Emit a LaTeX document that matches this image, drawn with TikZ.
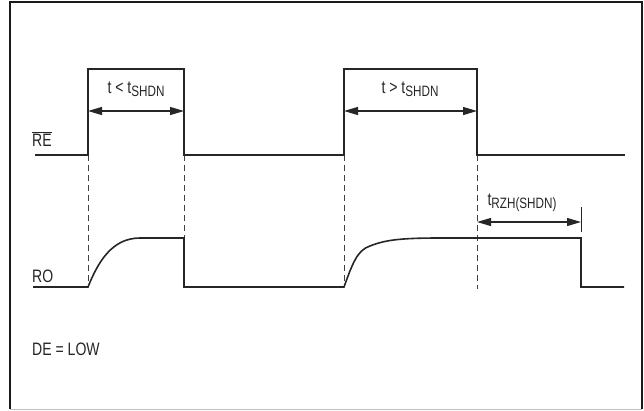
\documentclass[tikz,border=0pt]{standalone}
\usepackage{fontspec}
\setmainfont{Liberation Sans}[FakeStretch=0.78]
\usetikzlibrary{arrows.meta}
\newcommand{\sbs}[1]{\raisebox{-3pt}{\fontsize{15}{15}\selectfont #1}}
\begin{document}
\begin{tikzpicture}[x=1pt,y=-1pt,
  wave/.style={line width=1.6pt,draw=black!85,line join=miter},
  guide/.style={line width=0.9pt,draw=black!75,dash pattern=on 6pt off 4pt},
  dim/.style={line width=1.2pt,draw=black!85,{Triangle[length=14pt,width=8pt]}-{Triangle[length=14pt,width=8pt]}},
  lbl/.style={font=\fontsize{18}{18}\selectfont,inner sep=0pt,text=black!85}]
\useasboundingbox (0,0) rectangle (644,410);
\draw[line width=2pt,black!90] (10,409) -- (10,2) -- (642,2) -- (642,409);
\draw[line width=0.8pt,black!25] (10,409) -- (642,409);
% coordinates
\coordinate (r1) at (88,155); \coordinate (r2) at (184,155);
\coordinate (r3) at (344,155); \coordinate (r4) at (477,155);
\coordinate (h1) at (88,69); \coordinate (h2) at (184,69);
\coordinate (h3) at (344,69); \coordinate (h4) at (477,69);
\coordinate (o1) at (88,287); \coordinate (o2) at (184,238);
\coordinate (o3) at (344,287); \coordinate (o4) at (477,289);
\coordinate (a1l) at (88,111); \coordinate (a1r) at (184,111);
\coordinate (a2l) at (344,111); \coordinate (a2r) at (477,111);
\coordinate (a3l) at (477,222); \coordinate (a3r) at (581,222);
\coordinate (tk1) at (581,207); \coordinate (tk2) at (581,232);
% guides
\draw[guide] (r1) -- (o1);
\draw[guide] (r2) -- (o2);
\draw[guide] (r3) -- (o3);
\draw[guide] (r4) -- (o4);
% RE waveform
\draw[wave] (35,155) -- (r1) -- (h1) -- (h2) -- (r2) -- (r3) -- (h3) -- (h4) -- (r4) -- (625,155);
% RO waveform
\draw[wave] (33,287) -- (o1) .. controls (98,262) and (112,238) .. (140,238) -- (o2) -- (184,287) -- (o3)
  .. controls (352,265) and (357,250) .. (370,246) .. controls (385,240) and (400,238) .. (440,238)
  -- (581,238) -- (581,287) -- (624,287);
% dimension arrows
\draw[dim] (a1l) -- (a1r);
\draw[dim] (a2l) -- (a2r);
\draw[dim] (a3l) -- (a3r);
\draw[line width=1pt,black!85] (tk1) -- (tk2);
% labels
\node[lbl] (t1) at (136,89) {t < t\sbs{SHDN}};
\node[lbl] (t2) at (410,89) {t > t\sbs{SHDN}};
\node[lbl] (t3) at (522,203) {t\sbs{RZH(SHDN)}};
\node[lbl,anchor=base west] (re) at (32,146) {$\overline{\mbox{RE}}$};
\node[lbl,anchor=base west] (ro) at (32,282) {RO};
\node[lbl,anchor=base west] (de) at (32,355) {DE = LOW};
\end{tikzpicture}
\end{document}
